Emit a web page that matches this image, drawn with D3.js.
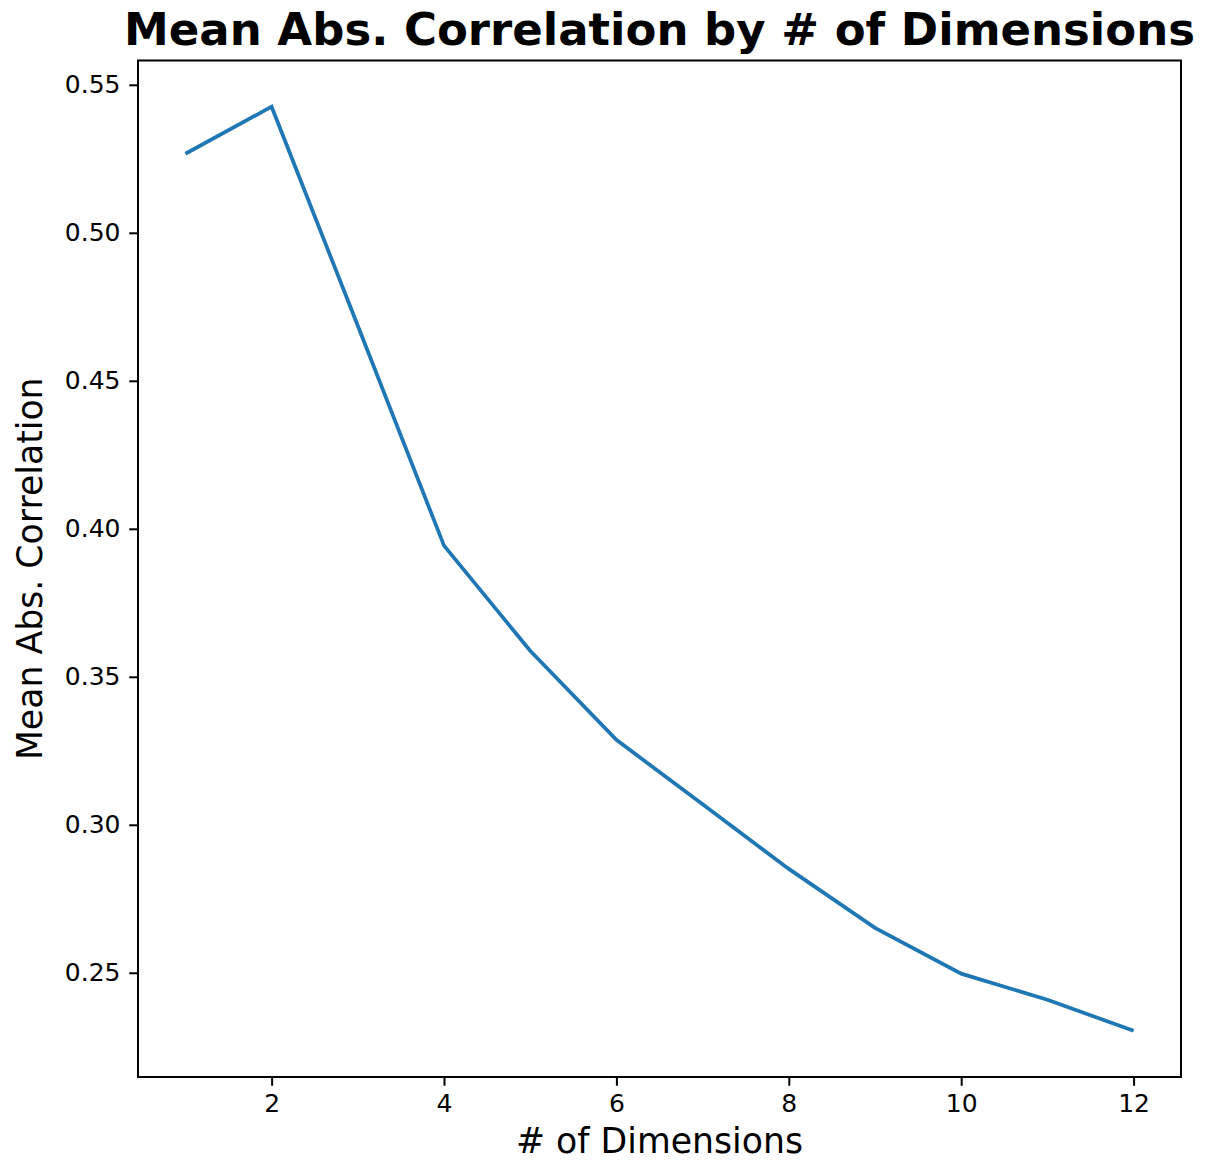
<!DOCTYPE html>
<meta charset="utf-8">
<head>
	<title>Mean Abs. Correlation by # of Dimensions</title>
	<script type="text/javascript" src="https://cdn.jsdelivr.net/npm/d3@7/dist/d3.min.js"></script>
	<style>
		body { margin: 0; background: #fff; }
		svg { display: block; font-family: "DejaVu Sans", sans-serif; }
		.axis path, .axis line { stroke: #000; stroke-width: 2; }
		.axis text { font-family: "DejaVu Sans", sans-serif; font-size: 25px; fill: #000; }
	</style>
</head>
<body>
	<div id="chart"></div>
	<script>
		// values
		const dimensions = [1, 2, 3, 4, 5, 6, 7, 8, 9, 10, 11, 12];
		const meanAbsCorr = [0.5267, 0.5426, 0.4686, 0.3943, 0.3588, 0.3287, 0.3069, 0.2851, 0.2652, 0.2497, 0.2409, 0.2304];
		const xTicks = [2, 4, 6, 8, 10, 12];
		const yTicks = [0.25, 0.30, 0.35, 0.40, 0.45, 0.50, 0.55];

		const width = 1206;
		const height = 1163;
		const margin = {top: 60.5, right: 25, bottom: 86, left: 138};

		const svg = d3.select("#chart")
			.append("svg")
			.attr("width", width)
			.attr("height", height);

		// matplotlib style 5% margins around data
		const xExt = d3.extent(dimensions);
		const yExt = d3.extent(meanAbsCorr);
		const xPad = (xExt[1] - xExt[0]) * 0.05;
		const yPad = (yExt[1] - yExt[0]) * 0.05;

		const x = d3.scaleLinear()
			.domain([xExt[0] - xPad, xExt[1] + xPad])
			.range([margin.left, width - margin.right]);
		const y = d3.scaleLinear()
			.domain([yExt[0] - yPad, yExt[1] + yPad])
			.range([height - margin.bottom, margin.top]);

		const line = d3.line()
			.x((d, i) => x(dimensions[i]))
			.y(d => y(d));

		svg.append("path")
			.datum(meanAbsCorr)
			.attr("fill", "none")
			.attr("stroke", "#1f77b4")
			.attr("stroke-width", 3.75)
			.attr("stroke-linejoin", "miter")
			.attr("d", line);

		svg.append("g")
			.attr("class", "axis")
			.attr("transform", `translate(0,${height - margin.bottom})`)
			.call(d3.axisBottom(x).tickValues(xTicks).tickSize(8.75).tickPadding(8.75).tickSizeOuter(0))
			.call(g => g.select(".domain").remove());

		svg.append("g")
			.attr("class", "axis")
			.attr("transform", `translate(${margin.left},0)`)
			.call(d3.axisLeft(y).tickValues(yTicks).tickFormat(d3.format(".2f")).tickSize(8.75).tickPadding(8.75).tickSizeOuter(0))
			.call(g => g.select(".domain").remove());

		// axes frame
		svg.append("rect")
			.attr("x", margin.left)
			.attr("y", margin.top)
			.attr("width", width - margin.left - margin.right)
			.attr("height", height - margin.top - margin.bottom)
			.attr("fill", "none")
			.attr("stroke", "#000")
			.attr("stroke-width", 2);

		svg.append("text")
			.attr("x", (margin.left + width - margin.right) / 2)
			.attr("y", 45)
			.attr("text-anchor", "middle")
			.attr("font-size", "45px")
			.attr("font-weight", "bold")
			.text("Mean Abs. Correlation by # of Dimensions");

		svg.append("text")
			.attr("x", (margin.left + width - margin.right) / 2)
			.attr("y", 1153)
			.attr("text-anchor", "middle")
			.attr("font-size", "34.7px")
			.text("# of Dimensions");

		svg.append("text")
			.attr("transform", `translate(42,${(margin.top + height - margin.bottom) / 2}) rotate(-90)`)
			.attr("text-anchor", "middle")
			.attr("font-size", "34.7px")
			.text("Mean Abs. Correlation");
	</script>
</body>
</html>
